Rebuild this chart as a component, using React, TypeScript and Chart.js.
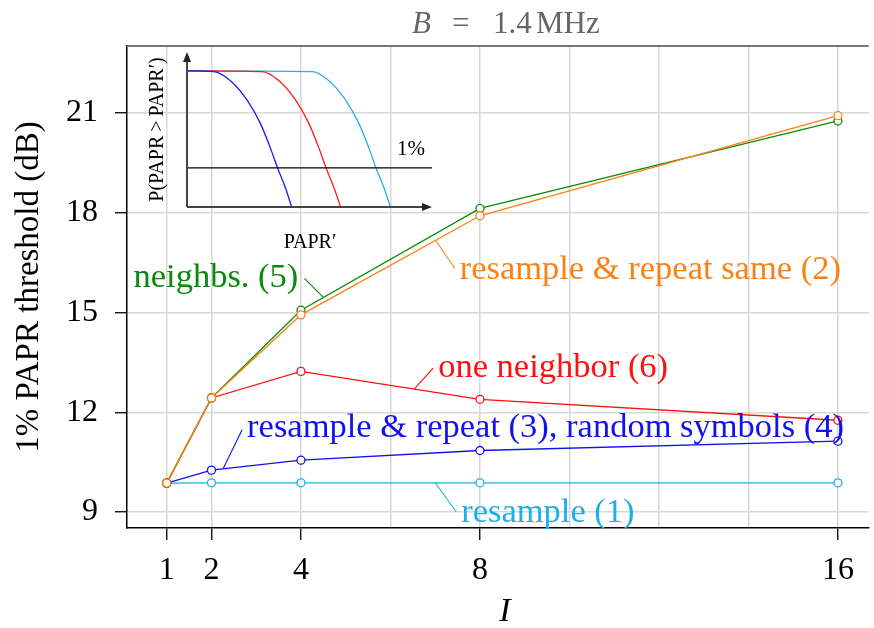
import { useEffect, useRef } from 'react';
import { Chart, registerables } from 'chart.js';

Chart.register(...registerables);

// Upsampling factor I on the x axis
const IFACTORS = [1, 2, 4, 8, 16];
const X_TICKS = [1, 2, 4, 8, 16];
const X_GRID = [1, 2, 4, 6, 8, 10, 12, 14, 16];
const Y_TICKS = [9, 12, 15, 18, 21];

// 1% PAPR threshold (dB) per method
const RESAMPLE = [9.87, 9.88, 9.88, 9.88, 9.88];
const RESAMPLE_REPEAT = [9.87, 10.26, 10.56, 10.85, 11.13];
const ONE_NEIGHBOR = [9.87, 12.43, 13.23, 12.39, 11.76];
const NEIGHBS = [9.87, 12.43, 15.07, 18.13, 20.76];
const RESAMPLE_REPEAT_SAME = [9.87, 12.43, 14.93, 17.91, 20.92];

// Sketch of the CCDF curves shown in the inset: [PAPR', probability]
const INSET_BLUE = [[0, 1], [1.09, 0.995], [1.76, 0.93], [2.44, 0.79], [2.98, 0.62], [3.39, 0.44], [3.7, 0.285], [4.0, 0.15], [4.27, 0]];
const INSET_RED = [[0, 1], [3.05, 0.995], [3.74, 0.93], [4.42, 0.79], [4.96, 0.62], [5.37, 0.44], [5.68, 0.285], [5.98, 0.15], [6.27, 0]];
const INSET_CYAN = [[0, 1], [5.1, 0.995], [5.78, 0.93], [6.46, 0.79], [7.0, 0.62], [7.41, 0.44], [7.72, 0.285], [8.02, 0.15], [8.3, 0]];
const INSET_LEVEL = [[0, 0.287], [10, 0.287]];

const FONT = '"Liberation Serif", "Times New Roman", serif';
const ORANGE = '#ff8012';
const GREEN = '#0a8a0a';
const RED = '#ff1010';
const BLUE = '#1010f0';
const CYAN = '#1eaeeb';

// Drawn first in the list = drawn on top
const SERIES = [
  { label: 'resample & repeat same (2)', values: RESAMPLE_REPEAT_SAME, color: ORANGE },
  { label: 'neighbs. (5)', values: NEIGHBS, color: GREEN },
  { label: 'one neighbor (6)', values: ONE_NEIGHBOR, color: RED },
  { label: 'resample & repeat (3), random symbols (4)', values: RESAMPLE_REPEAT, color: BLUE },
  { label: 'resample (1)', values: RESAMPLE, color: CYAN },
];

// Pinned labels: anchor at I = `at` on the series, leader to (dx, dy), text offset from leader end
const PINS = [
  { text: 'neighbs. (5)', values: NEIGHBS, color: GREEN, at: 4.5, dx: -19, dy: -19, align: 'right', tx: -6, ty: 9 },
  { text: 'resample & repeat same (2)', values: RESAMPLE_REPEAT_SAME, color: ORANGE, at: 7.01, dx: 19, dy: 28, align: 'left', tx: 5, ty: 11 },
  { text: 'one neighbor (6)', values: ONE_NEIGHBOR, color: RED, at: 6.53, dx: 19, dy: -21, align: 'left', tx: 5, ty: 9 },
  { text: 'resample & repeat (3), random symbols (4)', values: RESAMPLE_REPEAT, color: BLUE, at: 2.26, dx: 19, dy: -39, align: 'left', tx: 5, ty: 7 },
  { text: 'resample (1)', values: RESAMPLE, color: CYAN, at: 7.0, dx: 21, dy: 29, align: 'left', tx: 5, ty: 10 },
];

function valueAt(values: number[], i: number) {
  for (let k = 0; k < IFACTORS.length - 1; k++) {
    const a = IFACTORS[k];
    const b = IFACTORS[k + 1];
    if (i >= a && i <= b) return values[k] + ((values[k + 1] - values[k]) * (i - a)) / (b - a);
  }
  return values[values.length - 1];
}

const decorPlugin = {
  id: 'decor',
  afterDraw(chart: any) {
    const { ctx, chartArea: a } = chart;
    const x = chart.scales.x;
    const y = chart.scales.y;
    ctx.save();

    // upper frame line
    ctx.strokeStyle = '#777';
    ctx.lineWidth = 2;
    ctx.beginPath();
    ctx.moveTo(a.left, a.top);
    ctx.lineTo(a.right, a.top);
    ctx.stroke();

    // pinned series labels
    for (const p of PINS) {
      const px = x.getPixelForValue(p.at);
      const py = y.getPixelForValue(valueAt(p.values, p.at));
      const ex = px + p.dx;
      const ey = py + p.dy;
      ctx.strokeStyle = p.color;
      ctx.lineWidth = 1.1;
      ctx.beginPath();
      ctx.moveTo(px, py);
      ctx.lineTo(ex, ey);
      ctx.stroke();
      ctx.fillStyle = p.color;
      ctx.font = `34.5px ${FONT}`;
      ctx.textAlign = p.align;
      ctx.textBaseline = 'alphabetic';
      ctx.fillText(p.text, ex + p.tx, ey + p.ty);
    }

    // title
    ctx.fillStyle = '#666';
    ctx.textAlign = 'left';
    ctx.textBaseline = 'alphabetic';
    ctx.font = `italic 31px ${FONT}`;
    ctx.fillText('B', 412, 33);
    ctx.font = `31px ${FONT}`;
    ctx.fillText('=', 452, 33);
    ctx.fillText('1.4', 493, 33);
    ctx.fillText('MHz', 536, 33);

    // axis titles
    ctx.fillStyle = '#000';
    ctx.font = `italic 34px ${FONT}`;
    ctx.textAlign = 'center';
    ctx.fillText('I', 505, 621);

    ctx.save();
    ctx.translate(29, 287);
    ctx.rotate(-Math.PI / 2);
    ctx.font = `33px ${FONT}`;
    ctx.textAlign = 'center';
    ctx.textBaseline = 'middle';
    ctx.fillText('1% PAPR threshold (dB)', 0, 0);
    ctx.restore();

    ctx.restore();
  },
};

function arrowHead(ctx: CanvasRenderingContext2D, tx: number, ty: number, dirX: number, dirY: number) {
  const len = 10;
  const half = 4;
  const bx = tx - dirX * len;
  const by = ty - dirY * len;
  ctx.beginPath();
  ctx.moveTo(tx, ty);
  ctx.lineTo(bx - dirY * half, by + dirX * half);
  ctx.lineTo(bx + dirY * half, by - dirX * half);
  ctx.closePath();
  ctx.fill();
}

const insetPlugin = {
  id: 'insetDecor',
  afterDatasetsDraw(chart: any) {
    const { ctx, chartArea: a } = chart;
    const y = chart.scales.y;
    ctx.save();
    ctx.strokeStyle = '#444';
    ctx.fillStyle = '#222';
    ctx.lineWidth = 2;
    ctx.beginPath();
    ctx.moveTo(a.left, a.bottom);
    ctx.lineTo(a.left, a.top + 6);
    ctx.moveTo(a.left, a.bottom);
    ctx.lineTo(a.right - 6, a.bottom);
    ctx.stroke();
    arrowHead(ctx, a.left, a.top + 2, 0, -1);
    arrowHead(ctx, a.right, a.bottom, 1, 0);

    ctx.fillStyle = '#000';
    ctx.font = `21px ${FONT}`;
    ctx.textAlign = 'right';
    ctx.textBaseline = 'alphabetic';
    ctx.fillText('1%', a.right - 7, y.getPixelForValue(INSET_LEVEL[0][1]) - 13);

    ctx.textAlign = 'center';
    ctx.font = `20px ${FONT}`;
    ctx.fillText('PAPR\u2032', a.left + 123, a.bottom + 41);

    ctx.save();
    ctx.translate(a.left - 29, (a.top + a.bottom) / 2 + 1);
    ctx.rotate(-Math.PI / 2);
    ctx.textBaseline = 'middle';
    ctx.fillText('P(PAPR\u2009>\u2009PAPR\u2032)', 0, 0);
    ctx.restore();

    ctx.restore();
  },
};

export default function App() {
  const mainRef = useRef<HTMLCanvasElement>(null);
  const insetRef = useRef<HTMLCanvasElement>(null);

  useEffect(() => {
    if (!mainRef.current || !insetRef.current) return;

    const main = new Chart(mainRef.current, {
      type: 'line',
      data: {
        datasets: SERIES.map((s) => ({
          label: s.label,
          data: IFACTORS.map((i, k) => ({ x: i, y: s.values[k] })),
          borderColor: s.color,
          backgroundColor: '#fff',
          pointBackgroundColor: '#fff',
          pointBorderColor: s.color,
          pointRadius: 4,
          pointBorderWidth: 1.3,
          borderWidth: 1.3,
          tension: 0,
          clip: false,
        })),
      },
      options: {
        responsive: false,
        animation: false,
        devicePixelRatio: 1,
        layout: { padding: { top: 46, left: 0, right: 0, bottom: 0 } },
        plugins: { legend: { display: false }, tooltip: { enabled: false } },
        scales: {
          x: {
            type: 'linear',
            min: 0.112,
            max: 16.688,
            afterBuildTicks: (s: any) => {
              s.ticks = X_GRID.map((v) => ({ value: v }));
            },
            afterFit: (s: any) => {
              s.height = 100;
            },
            ticks: {
              autoSkip: false,
              maxRotation: 0,
              padding: 11,
              color: '#000',
              font: { family: FONT, size: 32 },
              callback: (v: any) => (X_TICKS.includes(Number(v)) ? String(v) : ''),
            },
            grid: {
              color: '#d8d8d8',
              lineWidth: 1.5,
              tickLength: 12,
              tickWidth: 1.3,
              tickColor: (c: any) => (c.tick && X_TICKS.includes(c.tick.value) ? '#000' : 'rgba(0,0,0,0)'),
            },
            border: { color: '#000', width: 1.5 },
          },
          y: {
            type: 'linear',
            min: 8.52,
            max: 23.015,
            afterBuildTicks: (s: any) => {
              s.ticks = Y_TICKS.map((v) => ({ value: v }));
            },
            afterFit: (s: any) => {
              s.width = 127;
            },
            ticks: {
              padding: 17,
              color: '#000',
              font: { family: FONT, size: 32 },
            },
            grid: {
              color: '#d8d8d8',
              lineWidth: 1.5,
              tickLength: 12,
              tickWidth: 1.3,
              tickColor: '#000',
            },
            border: { color: '#000', width: 1.5 },
          },
        },
      },
      plugins: [decorPlugin],
    } as any);

    const curve = (pts: number[][], color: string) => ({
      data: pts.map(([u, v]) => ({ x: u, y: v })),
      borderColor: color,
      borderWidth: 1.3,
      pointRadius: 0,
      cubicInterpolationMode: 'monotone',
      clip: false,
    });

    const inset = new Chart(insetRef.current, {
      type: 'line',
      data: {
        datasets: [
          { ...curve(INSET_LEVEL, '#000'), cubicInterpolationMode: 'default', tension: 0 },
          curve(INSET_BLUE, '#1a1af0'),
          curve(INSET_RED, '#ff1a1a'),
          curve(INSET_CYAN, '#22b0ec'),
        ],
      },
      options: {
        responsive: false,
        animation: false,
        devicePixelRatio: 1,
        layout: { padding: { left: 57, right: 8, top: 2, bottom: 51 } },
        plugins: { legend: { display: false }, tooltip: { enabled: false } },
        scales: {
          x: { type: 'linear', display: false, min: 0, max: 10 },
          y: { type: 'linear', display: false, min: 0, max: 1.154 },
        },
      },
      plugins: [insetPlugin],
    } as any);

    return () => {
      main.destroy();
      inset.destroy();
    };
  }, []);

  return (
    <div style={{ position: 'absolute', left: 0, top: 0, width: 874, height: 628, background: '#fff' }}>
      <canvas ref={mainRef} width={874} height={628} style={{ position: 'absolute', left: 0, top: 0 }} />
      <canvas ref={insetRef} width={310} height={210} style={{ position: 'absolute', left: 130, top: 48 }} />
    </div>
  );
}
